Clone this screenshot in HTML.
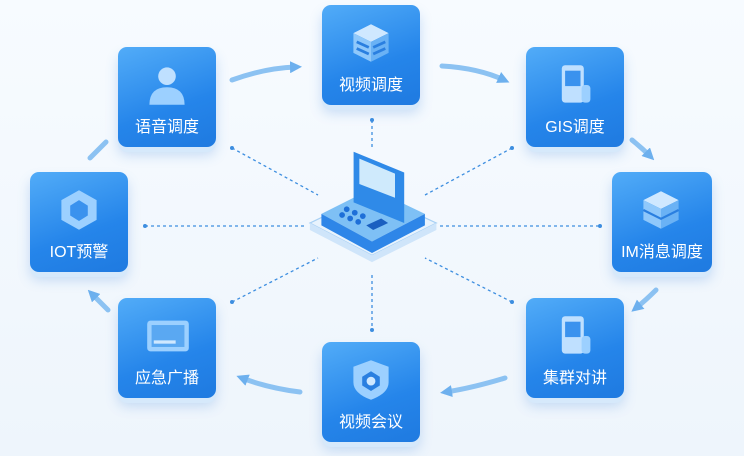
<!DOCTYPE html><html><head><meta charset="utf-8"><style>
body{margin:0;width:744px;height:456px;background:linear-gradient(180deg,#f7fbff,#eef5fc);position:relative;overflow:hidden;font-family:"Liberation Sans","Noto Sans CJK SC",sans-serif}
.b{position:absolute;width:98px;height:100px;border-radius:9px;background:linear-gradient(160deg,#52acf8,#2585ea 60%,#1f7ae0);box-shadow:0 5px 0 #d6e9fb,0 8px 12px rgba(60,130,220,.25);color:#fff;text-align:center}
.b span{position:absolute;left:0;right:0;bottom:10px;font-size:16px}
.b svg{position:absolute;left:27px;top:16px}
</style></head><body>
<svg width="744" height="456" style="position:absolute;left:0;top:0">
<defs><marker id="a" markerUnits="userSpaceOnUse" markerWidth="12" markerHeight="12" refX="6" refY="6" orient="auto"><path d="M0,0L12,6L0,12z" fill="#6db0ee"/></marker></defs>
<g stroke="#3d8ee0" stroke-width="1.3" stroke-dasharray="3,3" fill="none">
<line x1="372" y1="120" x2="372" y2="150"/><line x1="372" y1="275" x2="372" y2="330"/>
<line x1="232" y1="148" x2="318" y2="195"/><line x1="512" y1="148" x2="425" y2="195"/>
<line x1="145" y1="226" x2="305" y2="226"/><line x1="440" y1="226" x2="600" y2="226"/>
<line x1="232" y1="302" x2="318" y2="258"/><line x1="512" y1="302" x2="425" y2="258"/>
</g>
<g fill="#3d8ee0"><circle cx="372" cy="120" r="2"/><circle cx="232" cy="148" r="2"/><circle cx="512" cy="148" r="2"/><circle cx="145" cy="226" r="2"/><circle cx="600" cy="226" r="2"/><circle cx="232" cy="302" r="2"/><circle cx="512" cy="302" r="2"/><circle cx="372" cy="330" r="2"/></g>
<g stroke="#8cc2f2" stroke-width="5" fill="none" stroke-linecap="round" marker-end="url(#a)">
<path d="M232,80 Q265,68 296,67"/><path d="M442,66 Q478,68 504,80"/>
<path d="M632,140 Q642,148 650,156"/><path d="M656,290 Q646,300 636,308"/>
<path d="M505,378 Q472,388 446,392"/><path d="M300,392 Q268,388 242,378"/>
<path d="M108,310 Q100,302 92,294"/>
</g>
<path d="M90,158 Q98,150 106,142" stroke="#8cc2f2" stroke-width="5" fill="none" stroke-linecap="round"/>
<g transform="translate(372,215) scale(1.15) translate(-372,-215)">
<path d="M318,222 L372,196 L428,222 L372,250 Z" fill="#e8f3fd" stroke="#a8d0f4"/>
<path d="M318,222 L372,250 L428,222 L428,228 L372,256 L318,228Z" fill="#cfe5fa"/>
<path d="M328,214 L372,192 L418,214 L372,238 Z" fill="#7ec0f5"/>
<path d="M328,214 L372,238 L418,214 L418,224 L372,248 L328,224Z" fill="#2e86e8"/>
<path d="M356,160 L400,178 L400,222 L356,204Z" fill="#2f8ae8"/>
<path d="M361,166 L392,179 L392,200 L361,188Z" fill="#cfeafc"/>
<g fill="#1e6fd8"><circle cx="350" cy="210" r="2.5"/><circle cx="357" cy="213" r="2.5"/><circle cx="364" cy="216" r="2.5"/><circle cx="346" cy="215" r="2.5"/><circle cx="353" cy="218" r="2.5"/><circle cx="360" cy="221" r="2.5"/></g>
<path d="M367,224 L380,218 L386,222 L373,228Z" fill="#1a5fc0"/>
</g>
</svg>
<div class="b" style="left:322px;top:5px"><svg width="44" height="44" viewBox="0 0 40 40"><path d="M20,3 L36,11 L20,19 L4,11Z" fill="#cfe8ff"/><path d="M4,11 L20,19 L20,37 L4,29Z" fill="#8fc8fb"/><path d="M36,11 L20,19 L20,37 L36,29Z" fill="#6ab2f5"/><path d="M7,19 L18,24 M7,25 L18,30 M22,24 L33,19 M22,30 L33,25" stroke="#2a7fe0" stroke-width="2.5"/></svg><span>视频调度</span></div>
<div class="b" style="left:118px;top:47px"><svg width="44" height="44" viewBox="0 0 40 40"><circle cx="20" cy="12" r="8" fill="#bfe0ff"/><path d="M4,38 Q4,22 20,22 Q36,22 36,38Z" fill="#9cd0ff"/></svg><span>语音调度</span></div>
<div class="b" style="left:526px;top:47px"><svg width="44" height="44" viewBox="0 0 40 40"><rect x="8" y="2" width="20" height="34" rx="3" fill="#bfe0ff"/><rect x="11" y="7" width="14" height="14" fill="#3a92ee"/><rect x="26" y="20" width="8" height="16" rx="3" fill="#9cd0ff"/></svg><span>GIS调度</span></div>
<div class="b" style="left:30px;top:172px"><svg width="44" height="44" viewBox="0 0 40 40"><path d="M20,2 L36,11 L36,29 L20,38 L4,29 L4,11Z" fill="#9cd0ff"/><path d="M20,11 L28,16 L28,25 L20,30 L12,25 L12,16Z" fill="#3a92ee"/></svg><span>IOT预警</span></div>
<div class="b" style="left:612px;top:172px;width:100px"><svg width="44" height="44" viewBox="0 0 40 40"><path d="M20,3 L36,11 L20,19 L4,11Z" fill="#cfe8ff"/><path d="M4,11 L20,19 L20,37 L4,29Z" fill="#8fc8fb"/><path d="M36,11 L20,19 L20,37 L36,29Z" fill="#6ab2f5"/><path d="M4,20 L20,28 L36,20" stroke="#2a7fe0" stroke-width="2" fill="none"/></svg><span>IM消息调度</span></div>
<div class="b" style="left:118px;top:298px"><svg width="46" height="44" viewBox="0 0 42 40"><rect x="2" y="6" width="38" height="28" rx="3" fill="#9cd0ff"/><rect x="6" y="10" width="30" height="20" fill="#5aa8f2"/><rect x="8" y="24" width="20" height="3" fill="#cfe8ff"/></svg><span>应急广播</span></div>
<div class="b" style="left:526px;top:298px"><svg width="44" height="44" viewBox="0 0 40 40"><rect x="8" y="2" width="20" height="34" rx="3" fill="#bfe0ff"/><rect x="11" y="7" width="14" height="14" fill="#3a92ee"/><rect x="26" y="20" width="8" height="16" rx="3" fill="#9cd0ff"/></svg><span>集群对讲</span></div>
<div class="b" style="left:322px;top:342px"><svg width="44" height="44" viewBox="0 0 40 40"><path d="M20,2 L36,8 L36,22 Q36,32 20,38 Q4,32 4,22 L4,8Z" fill="#9cd0ff"/><path d="M20,12 L28,17 L28,25 L20,30 L12,25 L12,17Z" fill="#2a7fe0"/><circle cx="20" cy="21" r="4" fill="#cfe8ff"/></svg><span>视频会议</span></div>
</body></html>
